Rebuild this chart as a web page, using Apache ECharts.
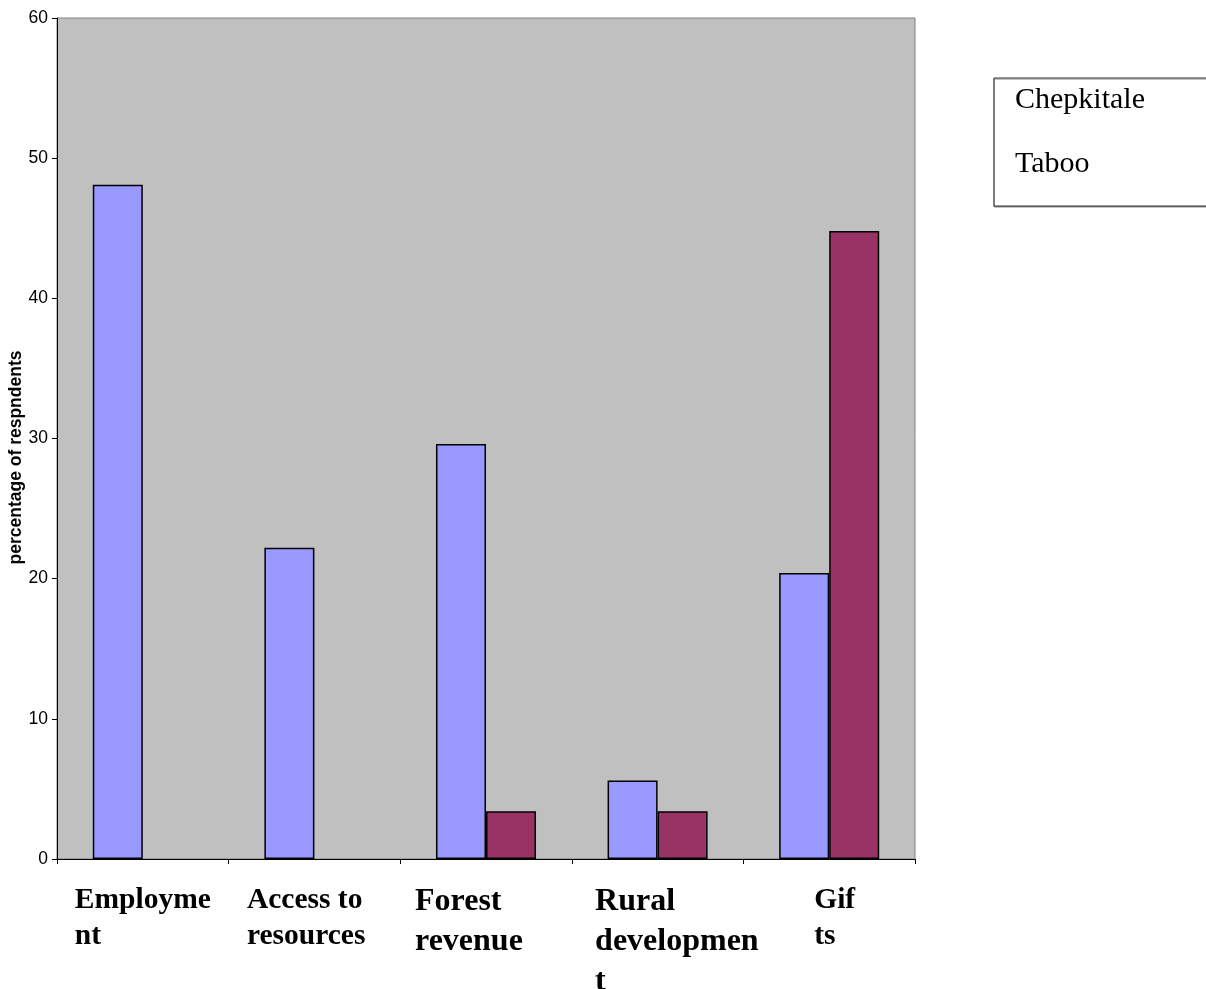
<!DOCTYPE html>
<html>
<head>
<meta charset="utf-8">
<title>Perceived benefits by group</title>
<script src="https://cdn.jsdelivr.net/npm/echarts@6/dist/echarts.min.js"></script>
<style>
  html, body { margin: 0; padding: 0; background: #ffffff; }
  #chart { width: 1206px; height: 989px; }
</style>
</head>
<body>
<div id="chart"></div>
<script>
// Categories, with the line breaks used in the axis labels
const categories = ['Employment', 'Access to resources', 'Forest revenue', 'Rural development', 'Gifts'];
const categoryLines = [
  ['Employme', 'nt'],
  ['Access to', 'resources'],
  ['Forest', 'revenue'],
  ['Rural', 'developmen', 't'],
  ['Gif', 'ts']
];
// Percentage of respondents per group
const chepkitale = [48.1, 22.2, 29.6, 5.6, 20.4];
const taboo = [0, 0, 3.4, 3.4, 44.8];
const seriesNames = ['Chepkitale', 'Taboo'];
const yTicks = { min: 0, max: 60, interval: 10 };

// Per-label text box widths and rich styles (label block is centred on the category)
const labelBoxWidth = [136, 135, 142, 125, 30];
const labelStyleKey = ['s', 's', 'l', 'l', 's'];

const chart = echarts.init(document.getElementById('chart'), null, { renderer: 'canvas' });

const catData = categories.map((c, i) => ({
  value: c,
  textStyle: { width: labelBoxWidth[i] }
}));

// A zero share draws no bar at all
const asBars = arr => arr.map(v => (v === 0 ? null : v));

const option = {
  backgroundColor: '#ffffff',
  animation: false,
  grid: {
    left: 57, top: 18, right: 291, bottom: 130,
    containLabel: false,
    outerBoundsMode: 'none',
    show: true,
    backgroundColor: '#c0c0c0',
    borderColor: '#808080',
    borderWidth: 1
  },
  legend: {
    data: seriesNames,
    orient: 'vertical',
    left: 994,
    top: 78,
    selectedMode: false,
    icon: 'rect',
    itemWidth: 0,
    itemHeight: 0,
    itemGap: 34,
    padding: [7, 120, 27, 15],
    backgroundColor: '#ffffff',
    borderColor: '#333333',
    borderWidth: 1,
    shadowColor: '#8a8a8a',
    shadowOffsetY: 1,
    shadowBlur: 0,
    textStyle: {
      fontFamily: 'Liberation Serif',
      fontSize: 30,
      lineHeight: 30,
      color: '#000000'
    }
  },
  xAxis: {
    type: 'category',
    data: catData,
    axisLine: { lineStyle: { color: '#000000', width: 1 } },
    axisTick: { show: true, length: 5, lineStyle: { color: '#000000' } },
    axisLabel: {
      interval: 0,
      margin: 23,
      align: 'center',
      verticalAlign: 'top',
      formatter: (v, i) => categoryLines[i].map(t => '{' + labelStyleKey[i] + '|' + t + '}').join('\n'),
      rich: {
        s: {
          fontFamily: 'Liberation Serif',
          fontWeight: 'bold',
          fontSize: 29.5,
          lineHeight: 36,
          color: '#000000',
          align: 'left'
        },
        l: {
          fontFamily: 'Liberation Serif',
          fontWeight: 'bold',
          fontSize: 32,
          lineHeight: 40,
          color: '#000000',
          align: 'left'
        }
      }
    },
    splitLine: { show: false }
  },
  yAxis: {
    type: 'value',
    min: yTicks.min,
    max: yTicks.max,
    interval: yTicks.interval,
    name: 'percentage of respndents',
    nameLocation: 'middle',
    nameRotate: 90,
    nameGap: 32,
    nameMoveOverlap: false,
    nameTextStyle: {
      fontFamily: 'Liberation Sans',
      fontWeight: 'bold',
      fontSize: 17.5,
      color: '#000000',
      padding: [0, 38, 0, 0]
    },
    axisLine: { show: true, lineStyle: { color: '#000000', width: 1 } },
    axisTick: { show: true, length: 5, lineStyle: { color: '#000000' } },
    axisLabel: {
      fontFamily: 'Liberation Sans',
      fontSize: 17.5,
      color: '#000000',
      margin: 9
    },
    splitLine: { show: false }
  },
  series: [
    {
      name: seriesNames[0],
      type: 'bar',
      data: asBars(chepkitale),
      barGap: '0%',
      barCategoryGap: '41.7%',
      itemStyle: { color: '#9999ff', borderColor: '#000000', borderWidth: 1.5 },
      emphasis: { disabled: true }
    },
    {
      name: seriesNames[1],
      type: 'bar',
      data: asBars(taboo),
      barGap: '0%',
      barCategoryGap: '41.7%',
      itemStyle: { color: '#993366', borderColor: '#000000', borderWidth: 1.5 },
      emphasis: { disabled: true }
    }
  ]
};

chart.setOption(option);
</script>
</body>
</html>
